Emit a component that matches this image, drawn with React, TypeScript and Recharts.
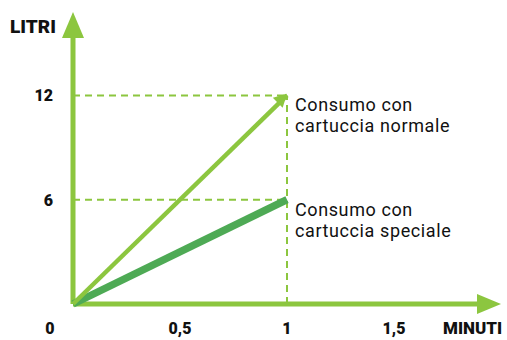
import React from "react";
import { ComposedChart, Line, XAxis, YAxis, ReferenceLine } from "recharts";

// minutes -> litres
const minutes = [0, 1];
const normale = [0, 12];
const speciale = [0, 6];
const xTicks = [0, 0.5, 1, 1.5];
const yTicks = [6, 12];

const data = minutes.map((m, i) => ({ m, normale: normale[i], speciale: speciale[i] }));

const LIGHT = "#8cc63f";
const DARK = "#4eaa55";
const TXT = "#111";

function Arrow({ x1, y1, x2, y2, len, half, withLine, width }: any) {
  const ang = Math.atan2(y2 - y1, x2 - x1);
  const bx = x2 - len * Math.cos(ang);
  const by = y2 - len * Math.sin(ang);
  const px = -Math.sin(ang) * half;
  const py = Math.cos(ang) * half;
  return (
    <g>
      {withLine && <line x1={x1} y1={y1} x2={bx + Math.cos(ang)} y2={by + Math.sin(ang)} stroke={LIGHT} strokeWidth={width} />}
      <polygon points={`${x2},${y2} ${bx + px},${by + py} ${bx - px},${by - py}`} fill={LIGHT} />
    </g>
  );
}

function XTick({ x, y, payload }: any) {
  const v = payload.value;
  const dx = v === 0 ? -23 : 0;
  return (
    <text x={x + dx} y={y + 22} textAnchor="middle" fontFamily="Roboto" fontWeight={900} fontSize={16} fill={TXT}>
      {String(v).replace(".", ",")}
    </text>
  );
}

function YTick({ y, payload }: any) {
  return (
    <text x={53} y={y + 6} textAnchor="end" fontFamily="Roboto" fontWeight={900} fontSize={16} fill={TXT}>
      {payload.value}
    </text>
  );
}

function Note({ x, y, lines }: any) {
  return (
    <text fontFamily="Roboto" fontSize={18} letterSpacing={0.6} fill={TXT}>
      {lines.map((l: string, i: number) => (
        <tspan key={i} x={x + 8} y={y + 16 + i * 21}>{l}</tspan>
      ))}
    </text>
  );
}

export default function App() {
  return (
    <div style={{ position: "absolute", left: 0, top: 0, width: 507, height: 340, background: "#fff" }}>
      <ComposedChart width={507} height={340} data={data} margin={{ top: 12, right: 6, bottom: 0, left: 0 }}>
        <XAxis
          dataKey="m"
          type="number"
          domain={[0, 2]}
          ticks={xTicks}
          height={36}
          axisLine={false}
          tickLine={false}
          tick={<XTick />}
          interval={0}
        />
        <YAxis
          type="number"
          domain={[0, 16.8]}
          ticks={yTicks}
          width={73}
          axisLine={false}
          tickLine={false}
          tick={<YTick />}
          interval={0}
        />
        {/* dashed guides */}
        <ReferenceLine segment={[{ x: 0, y: 12 }, { x: 1, y: 12 }]} stroke={LIGHT} strokeWidth={2} strokeDasharray="7 5" />
        <ReferenceLine segment={[{ x: 0, y: 6 }, { x: 1, y: 6 }]} stroke={LIGHT} strokeWidth={2} strokeDasharray="7 5" />
        <ReferenceLine segment={[{ x: 1, y: 0 }, { x: 1, y: 12 }]} stroke={LIGHT} strokeWidth={2} strokeDasharray="7 5" />
        {/* axes with arrows */}
        <ReferenceLine
          segment={[{ x: 0, y: 0 }, { x: 2, y: 0 }]}
          shape={(p: any) => <Arrow {...p} len={24} half={10} withLine width={5} />}
        />
        <ReferenceLine
          segment={[{ x: 0, y: 0 }, { x: 0, y: 16.8 }]}
          shape={(p: any) => <Arrow {...p} len={26} half={11} withLine width={5} />}
        />
        <Line dataKey="speciale" stroke={DARK} strokeWidth={7.5} dot={false} isAnimationActive={false} />
        <Line dataKey="normale" stroke={LIGHT} strokeWidth={4.5} dot={false} isAnimationActive={false} />
        <ReferenceLine
          segment={[{ x: 0, y: 0 }, { x: 1, y: 12.1 }]}
          shape={(p: any) => <Arrow {...p} len={13} half={7} />}
        />
        <ReferenceLine
          segment={[{ x: 1, y: 12 }, { x: 1, y: 12 }]}
          stroke="none"
          shape={(p: any) => <Note x={p.x1} y={p.y1} lines={["Consumo con", "cartuccia normale"]} />}
        />
        <ReferenceLine
          segment={[{ x: 1, y: 6 }, { x: 1, y: 6 }]}
          stroke="none"
          shape={(p: any) => <Note x={p.x1} y={p.y1} lines={["Consumo con", "cartuccia speciale"]} />}
        />
      </ComposedChart>
      <div style={{ position: "absolute", left: 10, top: 15, fontFamily: "Roboto", fontWeight: 900, fontSize: 19, color: TXT }}>LITRI</div>
      <div style={{ position: "absolute", left: 443, top: 318, fontFamily: "Roboto", fontWeight: 900, fontSize: 17, color: TXT }}>MINUTI</div>
    </div>
  );
}
